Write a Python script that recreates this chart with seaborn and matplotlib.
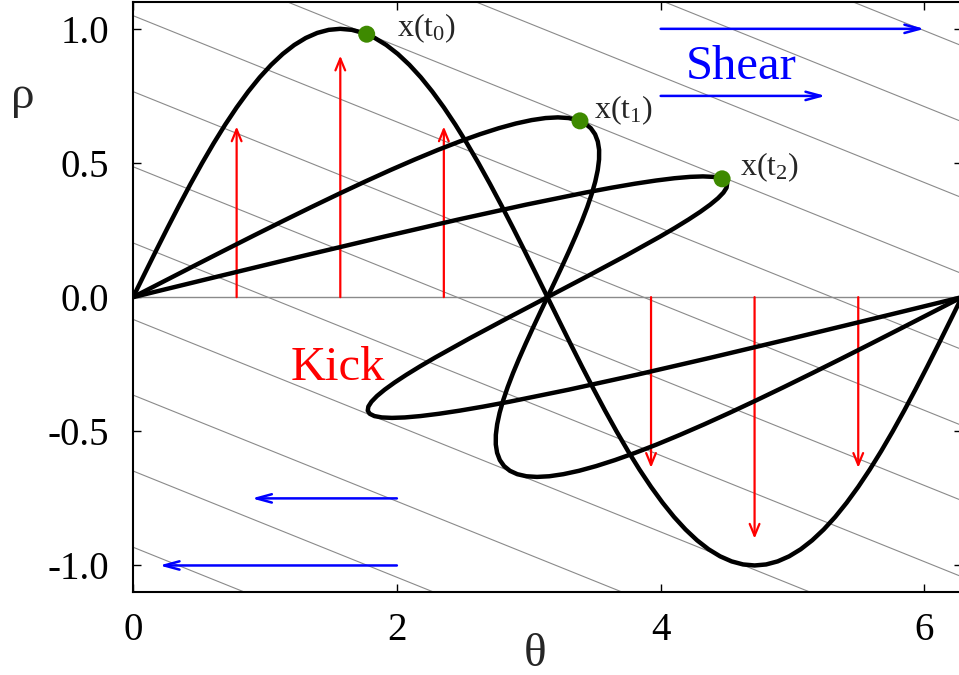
import matplotlib
matplotlib.use('Agg')
import matplotlib.pyplot as plt
import seaborn as sns

# curve x(t0): rho = sin(theta), sampled every 5 degrees
theta_t0 = [0.0, 0.0873, 0.1745, 0.2618, 0.3491, 0.4363, 0.5236, 0.6109, 0.6981, 0.7854,
            0.8727, 0.9599, 1.0472, 1.1345, 1.2217, 1.3090, 1.3963, 1.4835, 1.5708,
            1.6581, 1.7453, 1.8326, 1.9199, 2.0071, 2.0944, 2.1817, 2.2689, 2.3562,
            2.4435, 2.5307, 2.6180, 2.7053, 2.7925, 2.8798, 2.9671, 3.0543, 3.1416,
            3.2289, 3.3161, 3.4034, 3.4907, 3.5779, 3.6652, 3.7525, 3.8397, 3.9270,
            4.0143, 4.1015, 4.1888, 4.2761, 4.3633, 4.4506, 4.5379, 4.6251, 4.7124,
            4.7997, 4.8869, 4.9742, 5.0615, 5.1487, 5.2360, 5.3233, 5.4105, 5.4978,
            5.5851, 5.6723, 5.7596, 5.8469, 5.9341, 6.0214, 6.1087, 6.1959, 6.2832]
rho_t0 = [0.0, 0.0872, 0.1736, 0.2588, 0.3420, 0.4226, 0.5, 0.5736, 0.6428, 0.7071,
          0.7660, 0.8192, 0.8660, 0.9063, 0.9397, 0.9659, 0.9848, 0.9962, 1.0,
          0.9962, 0.9848, 0.9659, 0.9397, 0.9063, 0.8660, 0.8192, 0.7660, 0.7071,
          0.6428, 0.5736, 0.5, 0.4226, 0.3420, 0.2588, 0.1736, 0.0872, 0.0,
          -0.0872, -0.1736, -0.2588, -0.3420, -0.4226, -0.5, -0.5736, -0.6428, -0.7071,
          -0.7660, -0.8192, -0.8660, -0.9063, -0.9397, -0.9659, -0.9848, -0.9962, -1.0,
          -0.9962, -0.9848, -0.9659, -0.9397, -0.9063, -0.8660, -0.8192, -0.7660, -0.7071,
          -0.6428, -0.5736, -0.5, -0.4226, -0.3420, -0.2588, -0.1736, -0.0872, 0.0]

# curve x(t1)
theta_t1 = [0.0, 0.2312, 0.4610, 0.6888, 0.9134, 1.1336, 1.3486, 1.5573, 1.7587, 1.9521,
            2.1367, 2.3116, 2.4761, 2.6299, 2.7722, 2.9027, 3.0212, 3.1272, 3.2208,
            3.3018, 3.3702, 3.4263, 3.4704, 3.5025, 3.5233, 3.5334, 3.5329, 3.5229,
            3.5041, 3.4771, 3.4430, 3.4026, 3.3568, 3.3068, 3.2536, 3.1982, 3.1416,
            3.0850, 3.0296, 2.9764, 2.9264, 2.8806, 2.8402, 2.8061, 2.7791, 2.7603,
            2.7503, 2.7498, 2.7599, 2.7807, 2.8128, 2.8569, 2.9130, 2.9814, 3.0624,
            3.1560, 3.2620, 3.3805, 3.5110, 3.6533, 3.8071, 3.9716, 4.1465, 4.3311,
            4.5245, 4.7259, 4.9346, 5.1496, 5.3698, 5.5944, 5.8222, 6.0520, 6.2832]
rho_t1 = [0.0, 0.0584, 0.1163, 0.1734, 0.2292, 0.2831, 0.335, 0.3843, 0.4307, 0.4738,
          0.5132, 0.5489, 0.5802, 0.6072, 0.6296, 0.6472, 0.6598, 0.6675, 0.67,
          0.6675, 0.6598, 0.6472, 0.6296, 0.6072, 0.5802, 0.5489, 0.5132, 0.4738,
          0.4307, 0.3843, 0.335, 0.2831, 0.2292, 0.1734, 0.1163, 0.0584, 0.0,
          -0.0584, -0.1163, -0.1734, -0.2292, -0.2831, -0.335, -0.3843, -0.4307, -0.4738,
          -0.5132, -0.5489, -0.5802, -0.6072, -0.6296, -0.6472, -0.6598, -0.6675, -0.67,
          -0.6675, -0.6598, -0.6472, -0.6296, -0.6072, -0.5802, -0.5489, -0.5132, -0.4738,
          -0.4307, -0.3843, -0.335, -0.2831, -0.2292, -0.1734, -0.1163, -0.0584, 0.0]

# curve x(t2)
theta_t2 = [0.0, 0.6520, 1.2897, 1.8986, 2.4658, 2.9793, 3.4288, 3.6269, 3.8058, 3.9653,
            4.1045, 4.2230, 4.3208, 4.3976, 4.4535, 4.4889, 4.5040, 4.4995, 4.4760,
            4.4344, 4.3755, 4.3008, 4.2112, 4.1080, 3.9930, 3.7331, 3.4446, 3.1416,
            2.8386, 2.5501, 2.2902, 2.1752, 2.0720, 1.9824, 1.9077, 1.8488, 1.8072,
            1.7837, 1.7792, 1.7943, 1.8297, 1.8856, 1.9624, 2.0602, 2.1787, 2.3179,
            2.4774, 2.6563, 2.8544, 3.3039, 3.8174, 4.3846, 4.9935, 5.6312, 6.2832]
rho_t2 = [0.0, 0.0781, 0.1539, 0.225, 0.2893, 0.3447, 0.3897, 0.4078, 0.4229, 0.4347,
          0.4432, 0.4483, 0.45, 0.4483, 0.4432, 0.4347, 0.4229, 0.4078, 0.3897,
          0.3686, 0.3447, 0.3182, 0.2893, 0.2581, 0.225, 0.1539, 0.0781, 0.0,
          -0.0781, -0.1539, -0.225, -0.2581, -0.2893, -0.3182, -0.3447, -0.3686, -0.3897,
          -0.4078, -0.4229, -0.4347, -0.4432, -0.4483, -0.45, -0.4483, -0.4432, -0.4347,
          -0.4229, -0.4078, -0.3897, -0.3447, -0.2893, -0.225, -0.1539, -0.0781, 0.0]

# marked points x(t0), x(t1), x(t2)
dot_theta = [1.771, 3.388, 4.466]
dot_rho = [0.980, 0.657, 0.441]
dot_labels = [r'x(t$_0$)', r'x(t$_1$)', r'x(t$_2$)']
dot_label_theta = [2.0, 3.495, 4.60]
dot_label_rho = [0.972, 0.668, 0.455]

# kick arrows (vertical)
kick_theta = [0.785, 1.571, 2.356, 3.927, 4.712, 5.498]
kick_tip = [0.636, 0.90, 0.636, -0.636, -0.90, -0.636]

# shear arrows (horizontal)
shear_start = [4.0, 4.0, 2.0, 2.0]
shear_end = [6.0, 5.25, 0.9, 0.2]
shear_rho = [1.0, 0.75, -0.75, -1.0]

# background shear lines, rho at theta = 0 and theta = 2*pi
guide_theta = [0.0, 6.2832]
guide_rho_left = [-0.932, -0.648, -0.365, -0.083, 0.202, 0.486, 0.766, 1.049,
                  1.332, 1.615, 1.898, 2.181]
guide_rho_right = [-2.176, -1.892, -1.609, -1.327, -1.042, -0.758, -0.478, -0.195,
                   0.088, 0.371, 0.654, 0.937]

x_ticks = [0, 2, 4, 6]
y_ticks = [-1.0, -0.5, 0.0, 0.5, 1.0]
y_tick_labels = ['-1.0', '-0.5', '0.0', '0.5', '1.0']

sns.set_style('ticks')
plt.rcParams['font.family'] = ['Liberation Serif', 'DejaVu Serif']
plt.rcParams['mathtext.fontset'] = 'custom'
plt.rcParams['mathtext.rm'] = 'Liberation Serif'
plt.rcParams['mathtext.it'] = 'Liberation Serif:italic'
plt.rcParams['mathtext.default'] = 'regular'
plt.rcParams['axes.unicode_minus'] = False

fig = plt.figure(figsize=(9.59, 6.75), dpi=100)
ax = fig.add_axes([133.1 / 959, 82.7 / 675, 828.7 / 959, 590.3 / 675])

for left, right in zip(guide_rho_left, guide_rho_right):
    ax.plot(guide_theta, [left, right], color='#8a8a8a', lw=0.8, zorder=1)
ax.axhline(0, color='#8a8a8a', lw=1.0, zorder=1)

for th, tip in zip(kick_theta, kick_tip):
    ax.annotate('', xy=(th, tip), xytext=(th, 0.0), zorder=2,
                arrowprops=dict(arrowstyle='->,head_length=0.85,head_width=0.35',
                                color='red', lw=1.6, shrinkA=0, shrinkB=0))

for a, b, r in zip(shear_start, shear_end, shear_rho):
    ax.annotate('', xy=(b, r), xytext=(a, r), zorder=2,
                arrowprops=dict(arrowstyle='->,head_length=1.1,head_width=0.3',
                                color='blue', lw=1.8, shrinkA=0, shrinkB=0))

for th, rh in [(theta_t0, rho_t0), (theta_t1, rho_t1), (theta_t2, rho_t2)]:
    sns.lineplot(x=th, y=rh, sort=False, estimator=None, color='black',
                 lw=3.2, solid_joinstyle='round', solid_capstyle='round',
                 ax=ax, zorder=3)

sns.scatterplot(x=dot_theta, y=dot_rho, color='#3e8a00', s=150, edgecolor='none',
                ax=ax, zorder=4)
for lab, tx, ty in zip(dot_labels, dot_label_theta, dot_label_rho):
    ax.text(tx, ty, lab, fontsize=23, ha='left', va='baseline')

ax.text(4.19, 0.814, 'Shear', color='blue', fontsize=35, ha='left', va='baseline')
ax.text(1.195, -0.308, 'Kick', color='red', fontsize=35, ha='left', va='baseline')

ax.set_xlim(0, 6.2832)
ax.set_ylim(-1.1, 1.1)
ax.set_xticks(x_ticks)
ax.set_xticklabels([str(t) for t in x_ticks])
ax.set_yticks(y_ticks)
ax.set_yticklabels(y_tick_labels)
ax.tick_params(direction='in', top=True, right=True, length=6, width=1,
               labelsize=28, colors='black')
ax.tick_params(axis='x', pad=14)
ax.tick_params(axis='y', pad=17)
for sp in ax.spines.values():
    sp.set_linewidth(1.5)
    sp.set_color('black')

ax.set_xlabel('θ', fontsize=34)
ax.set_ylabel('ρ', fontsize=34, rotation=0)
ax.xaxis.set_label_coords(0.485, -0.125)
ax.yaxis.set_label_coords(-0.133, 0.82)
ax.xaxis.label.set_va('baseline')
ax.yaxis.label.set_va('baseline')
ax.yaxis.label.set_ha('center')

fig.savefig('out.png', dpi=100)
